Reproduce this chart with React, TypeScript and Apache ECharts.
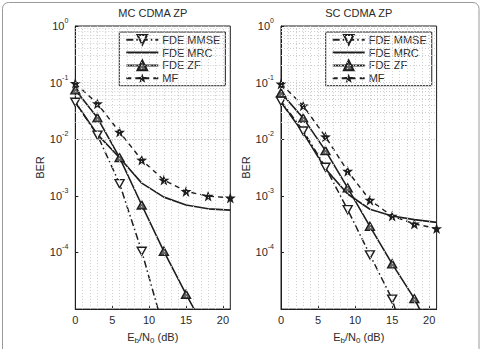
import React, { useEffect, useRef } from 'react';
import * as echarts from 'echarts';

// Eb/N0 sample points (dB)
const snr = [0, 3, 6, 9, 12, 15, 18, 21];
const seriesNames = ['FDE MMSE', 'FDE MRC', 'FDE ZF', 'MF'];
const panelTitles = ['MC CDMA ZP', 'SC CDMA ZP'];
const minorDbTicks = [1, 2, 3, 4, 5, 6, 7, 8, 9, 10, 11, 12, 13, 14, 15, 16, 17, 18, 19, 20];
const decades = [-5, -4, -3, -2, -1];

// MC CDMA ZP (BER)
const mcMmse = [0.045, 0.0118, 0.00164, 0.000105, 0.0000043];
const mcMrc = [0.045, 0.0122, 0.0047, 0.00168, 0.00095, 0.00069, 0.00059, 0.00056];
const mcZf = [0.0745, 0.0239, 0.00472, 0.00069, 0.000105, 0.0000183, 0.0000035, 0.0000007];
const mcMf = [0.0973, 0.0425, 0.0134, 0.0043, 0.0019, 0.0012, 0.00099, 0.00092];

// SC CDMA ZP (BER)
const scMmse = [0.047, 0.014, 0.0032, 0.00057, 0.000091, 0.000015, 0.0000008];
const scMrc = [0.045, 0.013, 0.003, 0.00108, 0.00058, 0.00044, 0.00038, 0.00034];
const scZf = [0.066, 0.0236, 0.0063, 0.00138, 0.00029, 0.000063, 0.0000153, 0.0000025];
const scMf = [0.095, 0.039, 0.0111, 0.00273, 0.00084, 0.00044, 0.00032, 0.000265];

const FONT = '"Liberation Sans", Arial, sans-serif';
const INK = '#1e1e1e';
const TEXT = '#2a2a2a';
const GRIDLINE = '#cdcdcd';

const STAR = 'path://M0,-10 L2.35,-3.24 L9.51,-3.09 L3.8,1.24 L5.88,8.09 L0,4 L-5.88,8.09 L-3.8,1.24 L-9.51,-3.09 L-2.35,-3.24 Z';
const DOWN_TRI = 'path://M-5,-4.3 L5,-4.3 L0,4.3 Z';
const UP_TRI = 'path://M-5,4.3 L5,4.3 L0,-4.3 Z';

const pts = (vals: number[]) => vals.map((v, i) => [snr[i], v]);

function buildGridLines() {
  const ys: number[] = [];
  decades.forEach((e) => {
    for (let k = 1; k <= 9; k++) ys.push(k * Math.pow(10, e));
  });
  return [
    ...minorDbTicks.map((x) => ({ xAxis: x })),
    ...ys.map((y) => ({ yAxis: y })),
  ];
}

function panelSeries(idx: number, vals: number[][]) {
  const [mmse, mrc, zf, mf] = vals;
  const common = {
    type: 'line' as const,
    xAxisIndex: idx,
    yAxisIndex: idx,
    clip: true,
    z: 3,
  };
  return [
    {
      type: 'line',
      xAxisIndex: idx,
      yAxisIndex: idx,
      data: [],
      silent: true,
      z: 1,
      markLine: {
        silent: true,
        symbol: ['none', 'none'],
        label: { show: false },
        lineStyle: { color: GRIDLINE, type: [1, 2], width: 1 },
        emphasis: { disabled: true },
        data: buildGridLines(),
      },
    },
    {
      ...common,
      name: seriesNames[0],
      data: pts(mmse),
      symbol: DOWN_TRI,
      symbolSize: [9, 8],
      lineStyle: { color: INK, width: 1.5, type: [7, 3, 1.5, 3] },
      itemStyle: { color: '#fff', borderColor: INK, borderWidth: 1.4 },
    },
    {
      ...common,
      name: seriesNames[1],
      data: pts(mrc),
      showSymbol: false,
      symbol: 'circle',
      symbolSize: 0,
      lineStyle: { color: INK, width: 1.6, type: 'solid' },
      itemStyle: { color: INK },
    },
    {
      ...common,
      name: seriesNames[2],
      data: pts(zf),
      symbol: UP_TRI,
      symbolSize: [9, 8],
      lineStyle: { color: INK, width: 1.6, type: 'solid' },
      itemStyle: { color: '#666', borderColor: INK, borderWidth: 1.4 },
    },
    {
      ...common,
      name: seriesNames[3],
      data: pts(mf),
      symbol: STAR,
      symbolSize: 11,
      lineStyle: { color: INK, width: 1.4, type: [5, 4] },
      itemStyle: { color: INK },
    },
  ];
}

const grids = [
  { left: 75.3, top: 26, width: 155, height: 286.7 },
  { left: 281, top: 26, width: 155.6, height: 286.7 },
];

export default function App() {
  const ref = useRef<HTMLDivElement>(null);

  useEffect(() => {
    if (!ref.current) return;
    const chart = echarts.init(ref.current, undefined, { renderer: 'svg' });

    const xAxes = grids.map((_, i) => ({
      type: 'value',
      gridIndex: i,
      min: 0,
      max: 21,
      interval: 5,
      axisLine: { show: true, lineStyle: { color: INK, width: 1 } },
      axisTick: { show: true, inside: true, length: 3, lineStyle: { color: INK } },
      splitLine: { show: false },
      axisLabel: {
        showMaxLabel: false,
        margin: 5,
        fontSize: 11,
        color: TEXT,
        fontFamily: FONT,
      },
      name: 'E{s|b}/N{s|0} (dB)',
      nameLocation: 'middle',
      nameGap: 15,
      nameTextStyle: {
        fontSize: 11,
        color: TEXT,
        fontFamily: FONT,
        lineHeight: 14,
        rich: {
          s: { fontSize: 8, lineHeight: 8, verticalAlign: 'bottom', color: TEXT, fontFamily: FONT },
        },
      },
    }));

    const yAxes = grids.map((_, i) => ({
      type: 'log',
      logBase: 10,
      gridIndex: i,
      min: 1e-5,
      max: 1,
      splitNumber: 5,
      axisLine: { show: true, lineStyle: { color: INK, width: 1 } },
      axisTick: { show: true, inside: true, length: 3, lineStyle: { color: INK } },
      splitLine: { show: false },
      axisLabel: {
        showMinLabel: false,
        margin: 7,
        fontSize: 11,
        lineHeight: 18,
        color: TEXT,
        fontFamily: FONT,
        formatter: (v: number) => `10{e|${Math.round(Math.log10(v))}}`,
        rich: {
          e: { fontSize: 7, lineHeight: 7, verticalAlign: 'top', color: TEXT, fontFamily: FONT },
        },
      },
      name: 'BER',
      nameLocation: 'middle',
      nameGap: 30,
      nameTextStyle: { fontSize: 11, color: TEXT, fontFamily: FONT },
    }));

    const legendData = seriesNames.map((n, i) =>
      i === 1 ? { name: n, itemStyle: { opacity: 0 } } : { name: n }
    );

    const legends = [119.3, 325.7].map((left) => ({
      data: legendData,
      orient: 'vertical',
      left,
      top: 32,
      padding: [2, 5, 2, 6],
      itemWidth: 32,
      itemHeight: 12,
      itemGap: 1.5,
      backgroundColor: '#fff',
      borderColor: INK,
      borderWidth: 1,
      borderRadius: 0,
      selectedMode: false,
      textStyle: { fontSize: 11, color: TEXT, fontFamily: FONT, padding: [0, 0, 0, -1] },
    }));

    chart.setOption({
      animation: false,
      backgroundColor: '#fff',
      grid: grids.map((g) => ({ ...g, show: true, backgroundColor: '#fff', borderColor: INK, borderWidth: 1 })),
      xAxis: xAxes,
      yAxis: yAxes,
      legend: legends,
      series: [
        ...panelSeries(0, [mcMmse, mcMrc, mcZf, mcMf]),
        ...panelSeries(1, [scMmse, scMrc, scZf, scMf]),
      ],
      graphic: [
        {
          type: 'rect',
          shape: { x: 2.5, y: 2.5, width: 476.5, height: 370, r: 6 },
          style: { fill: 'none', stroke: '#9a9a9a', lineWidth: 1 },
          silent: true,
          z: -1,
        },
        ...panelTitles.map((t, i) => ({
          type: 'text',
          x: grids[i].left + grids[i].width / 2,
          y: 13.3,
          silent: true,
          style: {
            text: t,
            fill: TEXT,
            font: `11px ${FONT}`,
            align: 'center',
            verticalAlign: 'middle',
          },
        })),
      ],
    });

    return () => chart.dispose();
  }, []);

  return (
    <div
      ref={ref}
      style={{ position: 'absolute', left: 0, top: 0, width: 482, height: 349 }}
    />
  );
}
